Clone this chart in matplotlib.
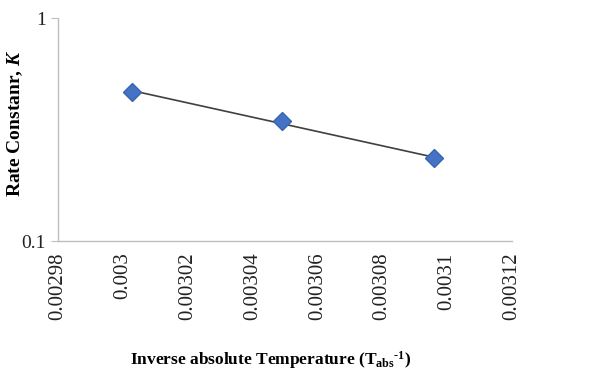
import matplotlib.pyplot as plt
import numpy as np
from matplotlib.ticker import FixedLocator, NullLocator

# Data
inv_temp = [0.003003, 0.003049, 0.003096]
rate_k = [0.467, 0.345, 0.235]

x_ticks = [0.00298, 0.003, 0.00302, 0.00304, 0.00306, 0.00308, 0.0031, 0.00312]
x_tick_labels = ["0.00298", "0.003", "0.00302", "0.00304", "0.00306", "0.00308", "0.0031", "0.00312"]
y_ticks = [0.1, 1]
y_tick_labels = ["0.1", "1"]

plt.rcParams['font.family'] = ['Liberation Serif', 'DejaVu Serif']
plt.rcParams['mathtext.fontset'] = 'custom'
plt.rcParams['mathtext.rm'] = 'Liberation Serif'
plt.rcParams['mathtext.it'] = 'Liberation Serif:italic'
plt.rcParams['mathtext.bf'] = 'Liberation Serif:bold'
plt.rcParams['mathtext.bfit'] = 'Liberation Serif:italic:bold'

fig = plt.figure(figsize=(6.16, 3.71), dpi=100)
ax = fig.add_axes([0.094, 0.350, 0.737, 0.601])

# Exponential trendline (fit in log space) between first and last point
xs = np.array(inv_temp)
coef = np.polyfit(xs, np.log(rate_k), 1)
xl = np.linspace(xs.min(), xs.max(), 50)
ax.plot(xl, np.exp(np.polyval(coef, xl)), color="#404040", lw=1.2, zorder=2)
ax.plot(inv_temp, rate_k, linestyle="none", marker="D", markersize=9,
        color="#4472C4", markeredgecolor="#3a64b0", zorder=3)

ax.set_yscale("log")
ax.set_ylim(0.1, 1)
ax.set_xlim(0.00298, 0.00312)
ax.yaxis.set_major_locator(FixedLocator(y_ticks))
ax.yaxis.set_minor_locator(NullLocator())
ax.set_yticklabels(y_tick_labels)
ax.set_xticks(x_ticks)
ax.set_xticklabels(x_tick_labels, rotation=90)

for s in ["top", "right"]:
    ax.spines[s].set_visible(False)
for s in ["left", "bottom"]:
    ax.spines[s].set_color("#bfbfbf")
    ax.spines[s].set_linewidth(1.0)
ax.tick_params(axis="y", colors="#bfbfbf", labelcolor="#222222", length=5, labelsize=14)
ax.tick_params(axis="x", length=0, labelcolor="#222222", labelsize=15, pad=8)

ax.set_ylabel(r"Rate Constanr, $\mathbfit{K}$", fontsize=14, fontweight="bold")
ax.yaxis.set_label_coords(-0.072, 0.53)
fig.text(0.44, 0.03, r"Inverse absolute Temperature (T$_{\mathbf{abs}}$$^{\mathbf{\text{-}1}}$)",
         fontsize=12.5, fontweight="bold", ha="center", va="center")

fig.savefig("out.png", dpi=100)
